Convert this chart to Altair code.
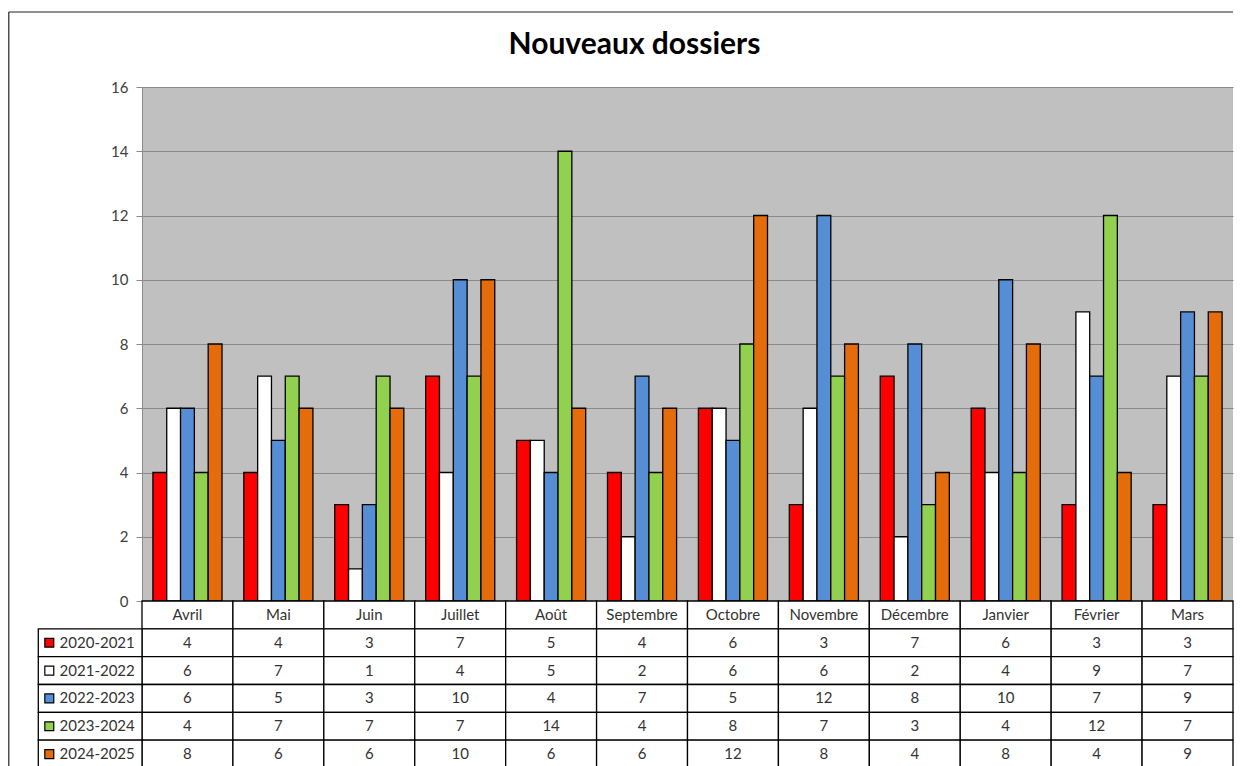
import altair as alt
import pandas as pd

months = ["Avril", "Mai", "Juin", "Juillet", "Août", "Septembre", "Octobre",
          "Novembre", "Décembre", "Janvier", "Février", "Mars"]
series = ["2020-2021", "2021-2022", "2022-2023", "2023-2024", "2024-2025"]
v_2020_2021 = [4, 4, 3, 7, 5, 4, 6, 3, 7, 6, 3, 3]
v_2021_2022 = [6, 7, 1, 4, 5, 2, 6, 6, 2, 4, 9, 7]
v_2022_2023 = [6, 5, 3, 10, 4, 7, 5, 12, 8, 10, 7, 9]
v_2023_2024 = [4, 7, 7, 7, 14, 4, 8, 7, 3, 4, 12, 7]
v_2024_2025 = [8, 6, 6, 10, 6, 6, 12, 8, 4, 8, 4, 9]
y_ticks = [0, 2, 4, 6, 8, 10, 12, 14, 16]
colors = ["#FF0000", "#FFFFFF", "#558ED5", "#92D050", "#E46C0A"]
title_text = "Nouveaux dossiers"

FONT = "Lato"
W, H, TH = 1091, 514, 167

values = [v_2020_2021, v_2021_2022, v_2022_2023, v_2023_2024, v_2024_2025]
rows = []
for s, vals in zip(series, values):
    for m, v in zip(months, vals):
        rows.append({"month": m, "series": s, "value": v})
df = pd.DataFrame(rows)

color_scale = alt.Scale(domain=series, range=colors)

bars = alt.Chart(df).mark_bar(stroke="black", strokeWidth=1.3).encode(
    x=alt.X("month:N", sort=months,
            scale=alt.Scale(domain=months, paddingInner=0.24, paddingOuter=0.12),
            axis=None),
    xOffset=alt.XOffset("series:N", sort=series, scale=alt.Scale(domain=series)),
    y=alt.Y("value:Q", scale=alt.Scale(domain=[0, 16]),
            axis=alt.Axis(values=y_ticks, title=None, grid=True,
                          gridColor="#8a8a8a", gridWidth=1,
                          domainColor="#8a8a8a", tickColor="#8a8a8a",
                          tickSize=6, labelPadding=8, labelFont=FONT,
                          labelFontSize=15, labelColor="#404040")),
    fill=alt.Fill("series:N", scale=color_scale, legend=None),
).properties(
    width=W, height=H,
    view=alt.ViewBackground(fill="#C0C0C0", strokeWidth=0),
    title=alt.TitleParams(text=title_text, font=FONT, fontSize=30,
                          fontWeight="bold", color="black", anchor="middle",
                          frame="group", dx=-53, offset=20),
)

# ---- data table below the plot ----
tab_rows = ["hdr"] + series
hdr = pd.DataFrame({"month": months, "row": ["hdr"] * len(months), "label": months})
cells = pd.DataFrame({"month": df["month"], "row": df["series"],
                      "label": df["value"].astype(str)})
tdf = pd.concat([hdr, cells], ignore_index=True)

xs = alt.X("month:N", sort=months,
           scale=alt.Scale(domain=months, paddingInner=0, paddingOuter=0), axis=None)
ys = alt.Y("row:N", sort=tab_rows,
           scale=alt.Scale(domain=tab_rows, paddingInner=0, paddingOuter=0), axis=None)

grid = alt.Chart(tdf).mark_rect(fill="white", stroke="black", strokeWidth=1.3).encode(x=xs, y=ys)
txt = alt.Chart(tdf).mark_text(font=FONT, fontSize=15, color="#333333").encode(
    x=xs, y=ys, text="label:N")

leg = pd.DataFrame({"row": series, "series": series})
leg_cell = alt.Chart(leg).mark_rect(fill="white", stroke="black", strokeWidth=1.3).encode(
    x=alt.value(-103.7), x2=alt.value(0), y=ys)
leg_sq = alt.Chart(leg).mark_square(size=80, stroke="black", strokeWidth=1.2, opacity=1).encode(
    x=alt.value(-92.7), y=ys,
    fill=alt.Fill("series:N", scale=color_scale, legend=None))
leg_txt = alt.Chart(leg).mark_text(font=FONT, fontSize=15, color="#333333", align="left").encode(
    x=alt.value(-82.4), y=ys, text="row:N")

# outer chart frame (left and top edges), drawn from the table panel
one = pd.DataFrame({"k": [0]})
frame_left = alt.Chart(one).mark_rule(color="#222222", strokeWidth=1.2).encode(
    x=alt.value(-133.2), y=alt.value(-(H + 75)), y2=alt.value(TH + 40))
frame_top = alt.Chart(one).mark_rule(color="#222222", strokeWidth=1.2).encode(
    x=alt.value(-133.2), x2=alt.value(W), y=alt.value(-(H + 75)))

table = alt.layer(frame_left, frame_top, grid, txt, leg_cell, leg_sq, leg_txt).properties(
    width=W, height=TH)

chart = alt.vconcat(bars, table, spacing=0, bounds="flush").configure_view(
    strokeWidth=0
).properties(padding={"left": 0, "top": 3, "right": 0, "bottom": 0})

chart.save("out.html", embed_options={"renderer": "svg", "actions": False})
